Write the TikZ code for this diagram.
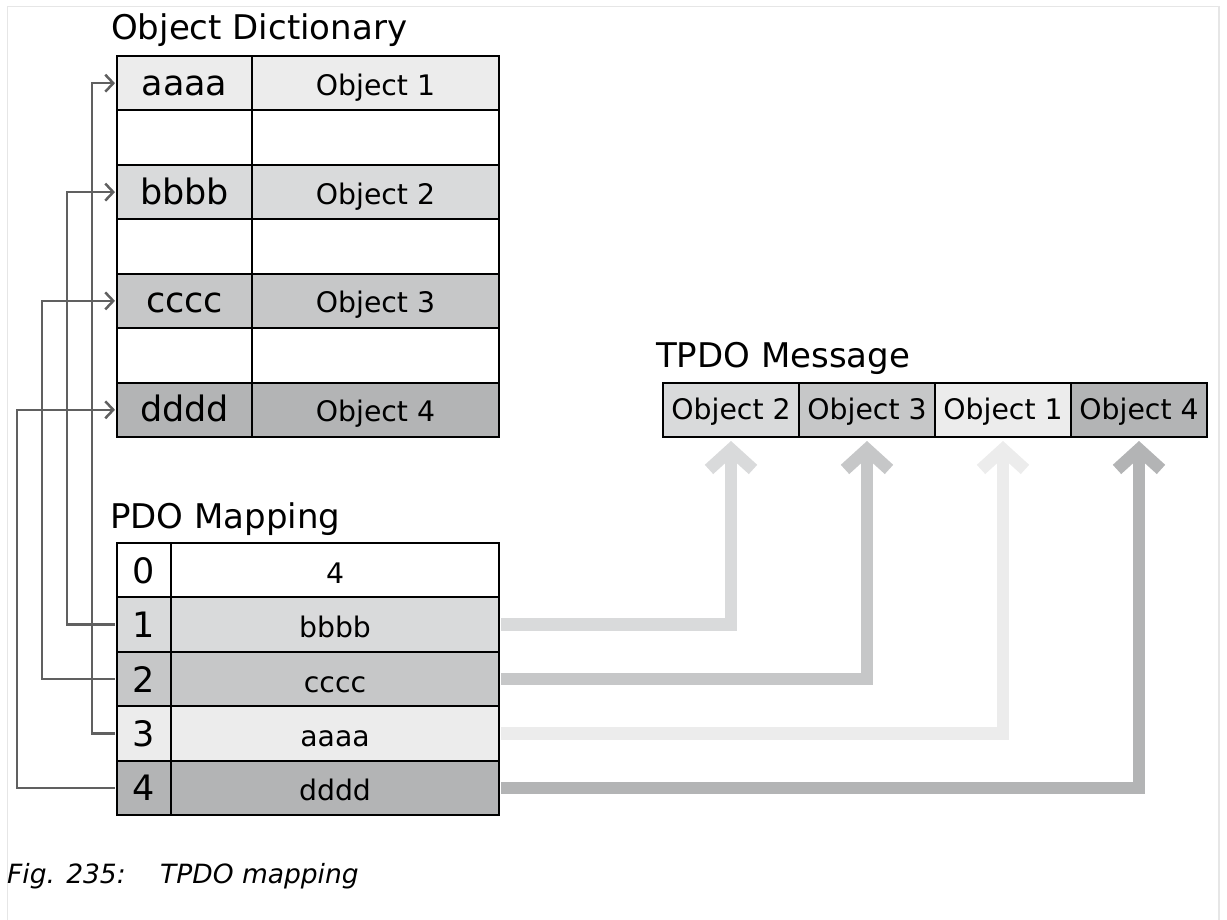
\documentclass[tikz,border=0pt]{standalone}
\usepackage{fontspec}
\setmainfont{DejaVu Sans}
\usetikzlibrary{arrows.meta}
\definecolor{cA}{HTML}{ECECEC}
\definecolor{cB}{HTML}{D9DADB}
\definecolor{cC}{HTML}{C6C7C8}
\definecolor{cD}{HTML}{B3B4B5}
\definecolor{linkgray}{HTML}{606060}
\definecolor{framegray}{HTML}{E6E6E6}
\begin{document}
\begin{tikzpicture}[x=1pt,y=-1pt,
  cell/.style={draw=black, line width=2pt, inner sep=0pt, anchor=center},
  odrow/.style={cell, minimum height=54.43pt},
  pdrow/.style={cell, minimum height=54.4pt},
  keytxt/.style={font=\fontsize{35}{40}\selectfont, text height=28pt, text depth=4pt},
  objtxt/.style={font=\fontsize{28.3}{32}\selectfont, text height=28pt, text depth=4pt},
  idxtxt/.style={font=\fontsize{35}{40}\selectfont, text height=30pt, text depth=4pt},
  valtxt/.style={font=\fontsize{28.3}{32}\selectfont, text height=30pt, text depth=4pt},
  msgtxt/.style={font=\fontsize{28.3}{32}\selectfont, text height=24pt, text depth=4pt},
  title/.style={anchor=base west, inner sep=0pt, font=\fontsize{34}{40}\selectfont},
  captxt/.style={anchor=base west, inner sep=0pt, font=\itshape\fontsize{26.5}{30}\selectfont},
  linkline/.style={draw=linkgray, line width=2.5pt, -{Straight Barb[length=8pt,width=17pt]}},
  fat/.style={line width=12.5pt, shorten >=3pt, -{Straight Barb[length=20pt,width=44pt]}}
]
\useasboundingbox (0,0) rectangle (1227,920);
\draw[framegray, line width=1.5pt] (7.5,925) -- (7.5,6.5) -- (1219,6.5) -- (1219,925);

% titles
\node[title] (odtitle) at (111,40) {Object Dictionary};
\node[title] (pdtitle) at (110,528) {PDO Mapping};
\node[title] (msgtitle) at (656,367) {TPDO Message};

% Object dictionary
\node[odrow, minimum width=135pt, fill=cA, keytxt] (oka) at (184.5,83.2) {aaaa};
\node[odrow, minimum width=247pt, fill=cA, objtxt] (ooa) at (375.5,83.2) {Object 1};
\node[odrow, minimum width=135pt, fill=white] (oke1) at (184.5,137.6) {};
\node[odrow, minimum width=247pt, fill=white] (ooe1) at (375.5,137.6) {};
\node[odrow, minimum width=135pt, fill=cB, keytxt] (okb) at (184.5,192.1) {bbbb};
\node[odrow, minimum width=247pt, fill=cB, objtxt] (oob) at (375.5,192.1) {Object 2};
\node[odrow, minimum width=135pt, fill=white] (oke2) at (184.5,246.5) {};
\node[odrow, minimum width=247pt, fill=white] (ooe2) at (375.5,246.5) {};
\node[odrow, minimum width=135pt, fill=cC, keytxt] (okc) at (184.5,300.9) {cccc};
\node[odrow, minimum width=247pt, fill=cC, objtxt] (ooc) at (375.5,300.9) {Object 3};
\node[odrow, minimum width=135pt, fill=white] (oke3) at (184.5,355.4) {};
\node[odrow, minimum width=247pt, fill=white] (ooe3) at (375.5,355.4) {};
\node[odrow, minimum width=135pt, fill=cD, keytxt] (okd) at (184.5,409.8) {dddd};
\node[odrow, minimum width=247pt, fill=cD, objtxt] (ood) at (375.5,409.8) {Object 4};

% PDO mapping
\node[pdrow, minimum width=54pt, fill=white, idxtxt] (pi0) at (144,570.2) {0};
\node[pdrow, minimum width=328pt, fill=white, valtxt] (pv0) at (335,570.2) {4};
\node[pdrow, minimum width=54pt, fill=cB, idxtxt] (pi1) at (144,624.6) {1};
\node[pdrow, minimum width=328pt, fill=cB, valtxt] (pv1) at (335,624.6) {bbbb};
\node[pdrow, minimum width=54pt, fill=cC, idxtxt] (pi2) at (144,679) {2};
\node[pdrow, minimum width=328pt, fill=cC, valtxt] (pv2) at (335,679) {cccc};
\node[pdrow, minimum width=54pt, fill=cA, idxtxt] (pi3) at (144,733.4) {3};
\node[pdrow, minimum width=328pt, fill=cA, valtxt] (pv3) at (335,733.4) {aaaa};
\node[pdrow, minimum width=54pt, fill=cD, idxtxt] (pi4) at (144,787.8) {4};
\node[pdrow, minimum width=328pt, fill=cD, valtxt] (pv4) at (335,787.8) {dddd};

% TPDO message
\node[cell, minimum width=136pt, minimum height=54.5pt, fill=cB, msgtxt] (m2) at (731,409.75) {Object 2};
\node[cell, minimum width=136pt, minimum height=54.5pt, fill=cC, msgtxt] (m3) at (867,409.75) {Object 3};
\node[cell, minimum width=136pt, minimum height=54.5pt, fill=cA, msgtxt] (m1) at (1003,409.75) {Object 1};
\node[cell, minimum width=136pt, minimum height=54.5pt, fill=cD, msgtxt] (m4) at (1139,409.75) {Object 4};

% thick arrows
\draw[fat, cB] ([xshift=1pt]pv1.east) -| (m2.south);
\draw[fat, cC] ([xshift=1pt]pv2.east) -| (m3.south);
\draw[fat, cA] ([xshift=1pt]pv3.east) -| (m1.south);
\draw[fat, cD] ([xshift=1pt]pv4.east) -| (m4.south);

% gray link lines
\draw[linkline] ([xshift=-1pt]pi1.west) -- ++(-48,0) |- ([xshift=-1pt]okb.west);
\draw[linkline] ([xshift=-1pt]pi2.west) -- ++(-73,0) |- ([xshift=-1pt]okc.west);
\draw[linkline] ([xshift=-1pt]pi3.west) -- ++(-23,0) |- ([xshift=-1pt]oka.west);
\draw[linkline] ([xshift=-1pt]pi4.west) -- ++(-98,0) |- ([xshift=-1pt]okd.west);

% caption
\node[captxt] (capa) at (7,883) {Fig. 235:};
\node[captxt] (capb) at (160,883) {TPDO mapping};
\end{tikzpicture}
\end{document}
